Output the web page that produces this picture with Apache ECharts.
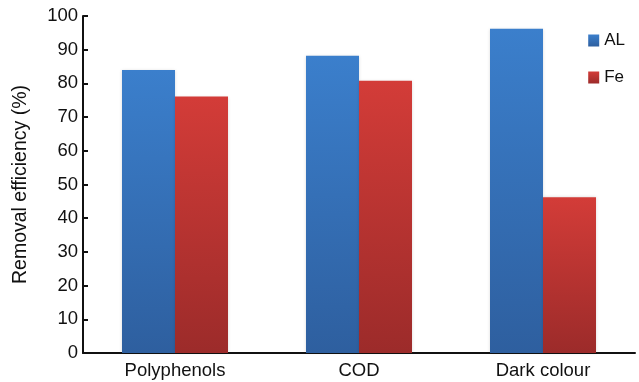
<!DOCTYPE html>
<html>
<head>
<meta charset="utf-8">
<script src="https://cdn.jsdelivr.net/npm/echarts@6/dist/echarts.min.js"></script>
<style>
  html, body { margin: 0; padding: 0; background: #fff; }
  #chart { width: 639px; height: 382px; }
</style>
</head>
<body>
<div id="chart"></div>
<script>
// Removal efficiency of each coagulant per parameter
const categories = ['Polyphenols', 'COD', 'Dark colour'];
const alValues = [84.0, 88.2, 96.2];
const feValues = [76.1, 80.8, 46.2];
const yTicks = [0, 10, 20, 30, 40, 50, 60, 70, 80, 90, 100];

const blueFill = new echarts.graphic.LinearGradient(0, 0, 0, 1, [
  { offset: 0, color: '#3b7fcc' },
  { offset: 1, color: '#2e5f9f' }
]);
const redFill = new echarts.graphic.LinearGradient(0, 0, 0, 1, [
  { offset: 0, color: '#d33c38' },
  { offset: 1, color: '#9c2b2a' }
]);

const chart = echarts.init(document.getElementById('chart'));
chart.setOption({
  animation: false,
  textStyle: { fontFamily: 'Liberation Sans, Arial, sans-serif' },
  grid: { left: 83, right: 4, top: 16, bottom: 29 },
  legend: {
    orient: 'vertical',
    right: 9,
    top: 27,
    itemWidth: 11,
    itemHeight: 12,
    itemGap: 20,
    icon: 'rect',
    textStyle: { fontSize: 17, color: '#111', padding: [0, 0, 0, 0] },
    data: ['AL', 'Fe']
  },
  xAxis: {
    type: 'category',
    data: categories,
    axisLine: { lineStyle: { color: '#111', width: 2 } },
    axisTick: { show: false },
    axisLabel: { fontSize: 18.5, color: '#111', margin: 8 }
  },
  yAxis: {
    type: 'value',
    min: yTicks[0],
    max: yTicks[yTicks.length - 1],
    interval: 10,
    name: 'Removal efficiency (%)',
    nameLocation: 'middle',
    nameGap: 52,
    nameTextStyle: { fontSize: 19.5, color: '#111' },
    axisLine: { show: true, lineStyle: { color: '#111', width: 2 } },
    axisTick: { show: true, inside: true, length: 5, lineStyle: { color: '#111', width: 2 } },
    axisLabel: { fontSize: 18.5, color: '#111', margin: 5 },
    splitLine: { show: false }
  },
  series: [
    {
      name: 'AL',
      type: 'bar',
      data: alValues,
      barWidth: 53,
      barGap: '0%',
      itemStyle: { color: blueFill, shadowColor: 'rgba(0,0,0,0.15)', shadowBlur: 3 }
    },
    {
      name: 'Fe',
      type: 'bar',
      data: feValues,
      barWidth: 53,
      barGap: '0%',
      itemStyle: { color: redFill, shadowColor: 'rgba(0,0,0,0.15)', shadowBlur: 3 }
    }
  ]
});
</script>
</body>
</html>
